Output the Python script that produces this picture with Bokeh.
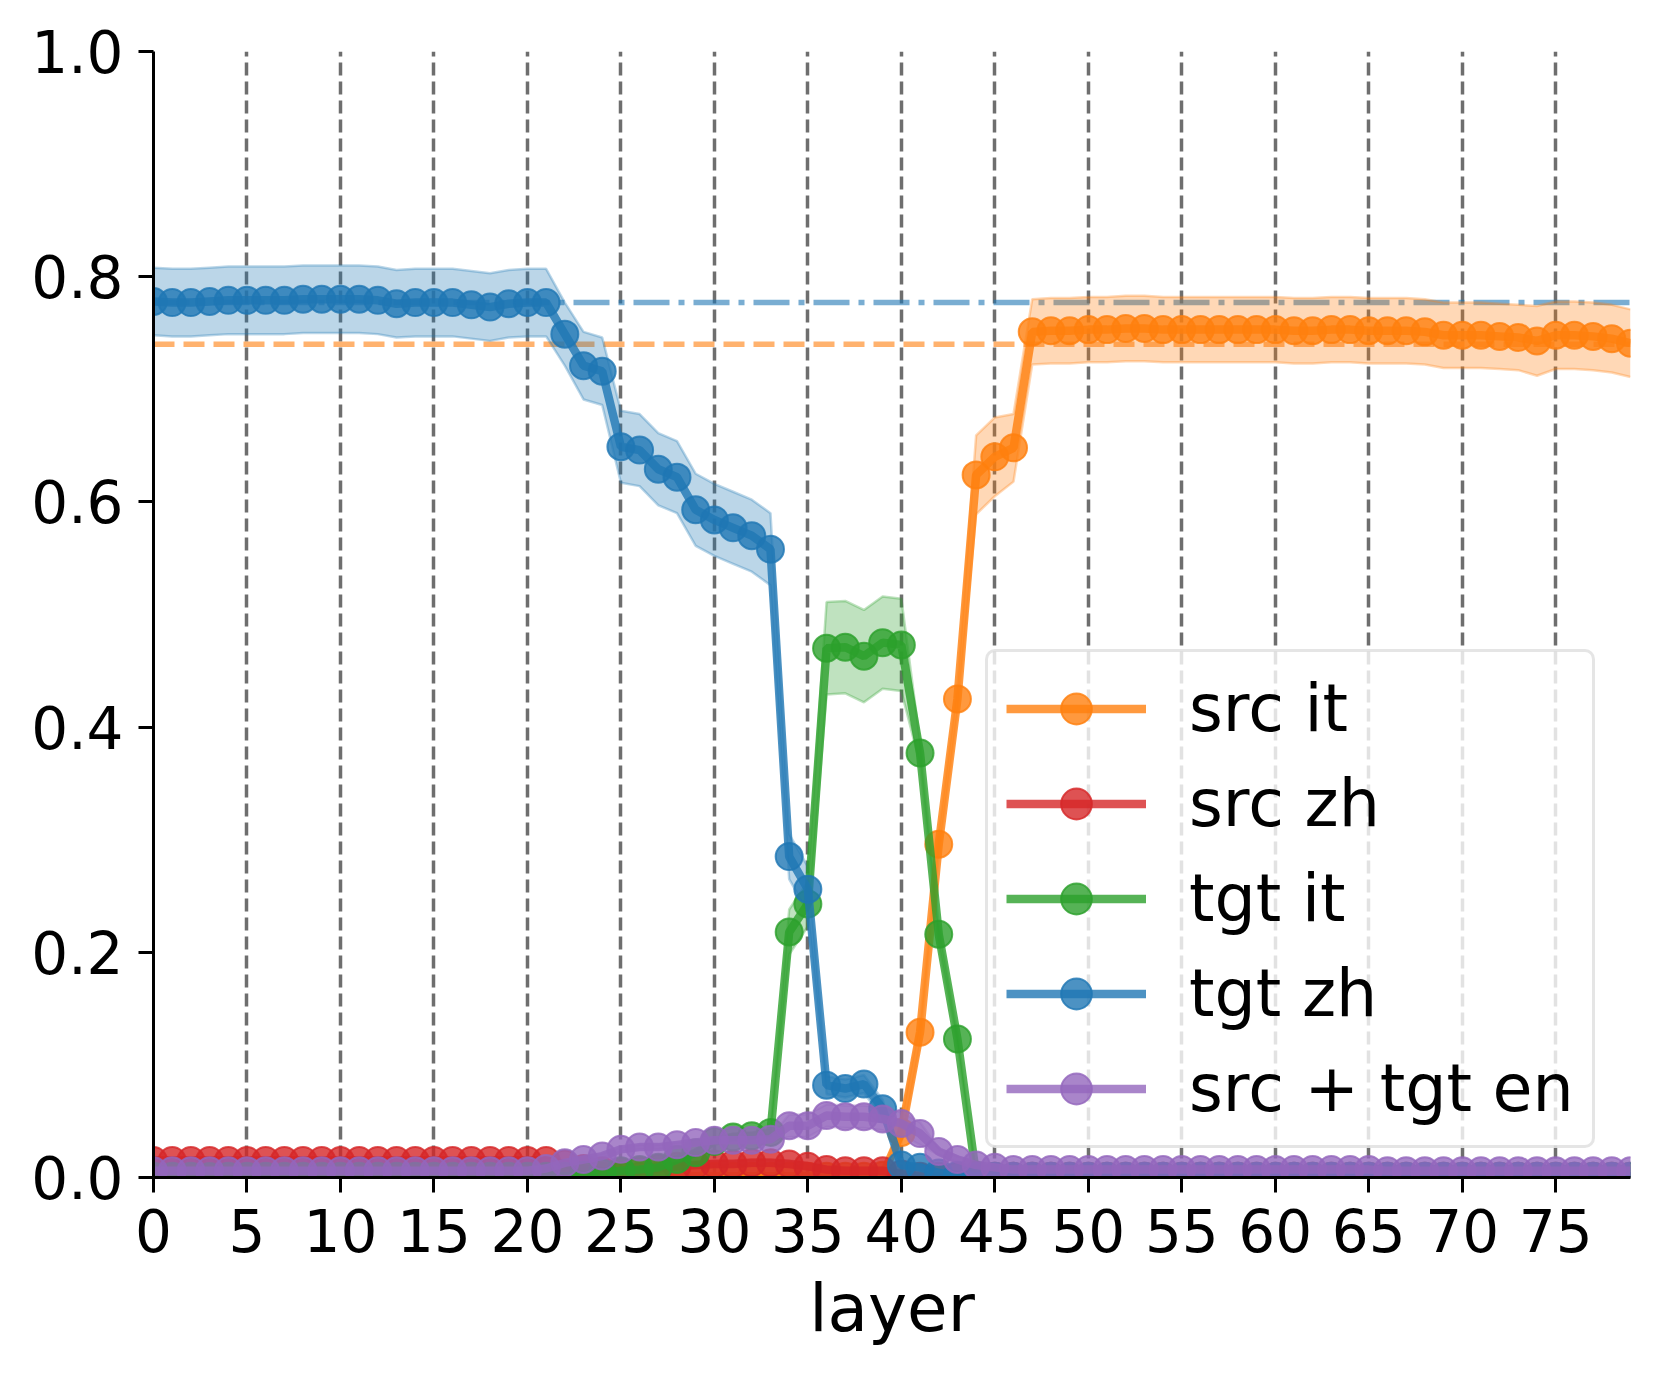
from bokeh.plotting import figure
from bokeh.models import FixedTicker, PrintfTickFormatter, Legend, LegendItem, Span
from bokeh.embed import file_html
from bokeh.resources import INLINE

layers = list(range(80))

# src it (orange)
src_it = [0.001] * 39 + [0.002, 0.040, 0.129, 0.296, 0.425, 0.624, 0.640, 0.648,
          0.751, 0.752, 0.752, 0.753, 0.753, 0.754, 0.754, 0.753, 0.753, 0.753,
          0.753, 0.753, 0.753, 0.753, 0.752, 0.752, 0.753, 0.753, 0.752, 0.752,
          0.752, 0.751, 0.748, 0.748, 0.748, 0.747, 0.746, 0.743, 0.748, 0.748,
          0.747, 0.745, 0.741]
src_it_ci = [0.001] * 40 + [0.010, 0.010, 0.010, 0.012, 0.035, 0.035, 0.030] + [0.029] * 27 + [0.031, 0.030, 0.030, 0.030, 0.030, 0.030]

# src zh (red)
src_zh = [0.015] * 22 + [0.012, 0.008, 0.006, 0.005, 0.006, 0.008, 0.010, 0.011,
          0.012, 0.012, 0.013, 0.013, 0.012, 0.010, 0.007, 0.006, 0.006, 0.006,
          0.003] + [0.001] * 39
src_zh_ci = [0.003] * 41 + [0.001] * 39

# tgt it (green)
tgt_it = [0.001] * 23 + [0.002, 0.004, 0.006, 0.007, 0.009, 0.016, 0.022, 0.032,
          0.036, 0.037, 0.040, 0.218, 0.243, 0.470, 0.471, 0.463, 0.475, 0.473,
          0.377, 0.216, 0.123, 0.002] + [0.001] * 35
tgt_it_ci = [0.001] * 23 + [0.003] * 11 + [0.020, 0.020, 0.041, 0.041, 0.041, 0.041, 0.041,
             0.010, 0.008, 0.005] + [0.001] * 36

# tgt zh (blue)
tgt_zh = [0.778, 0.777, 0.777, 0.778, 0.779, 0.779, 0.779, 0.779, 0.780, 0.780,
          0.780, 0.780, 0.779, 0.776, 0.777, 0.777, 0.777, 0.775, 0.773, 0.776,
          0.777, 0.777, 0.749, 0.721, 0.716, 0.649, 0.646, 0.629, 0.622, 0.593,
          0.584, 0.577, 0.570, 0.558, 0.285, 0.256, 0.082, 0.079, 0.083, 0.061,
          0.011, 0.009, 0.004, 0.002] + [0.001] * 36
tgt_zh_ci = [0.030] * 22 + [0.028, 0.030, 0.030] + [0.032] * 9 + [0.020, 0.020, 0.008, 0.008, 0.008, 0.008] + [0.003] * 40

# src + tgt en (purple)
en = [0.006] * 21 + [0.008, 0.013, 0.016, 0.019, 0.025, 0.027, 0.027, 0.029, 0.031,
      0.033, 0.033, 0.033, 0.034, 0.046, 0.046, 0.055, 0.054, 0.054, 0.052, 0.048,
      0.039, 0.023, 0.016, 0.011, 0.009] + [0.007] * 20 + [0.006] * 14
en_ci = [0.002] * 34 + [0.010] * 8 + [0.003] * 38

ref_src_it = 0.740
ref_tgt_zh = 0.777

x_ticks = list(range(0, 80, 5))
y_ticks = [0.0, 0.2, 0.4, 0.6, 0.8, 1.0]

series = [
    ("src it", src_it, src_it_ci, "#ff7f0e"),
    ("src zh", src_zh, src_zh_ci, "#d62728"),
    ("tgt it", tgt_it, tgt_it_ci, "#2ca02c"),
    ("tgt zh", tgt_zh, tgt_zh_ci, "#1f77b4"),
    ("src + tgt en", en, en_ci, "#9467bd"),
]

FONT = "DejaVu Sans"

p = figure(width=1655, height=1368, x_range=(0, 79), y_range=(0, 1),
           output_backend="svg", toolbar_location=None,
           min_border_left=153, min_border_right=25, min_border_top=51, min_border_bottom=191)
p.outline_line_color = None
p.background_fill_color = "white"

# axes
p.xaxis.ticker = FixedTicker(ticks=x_ticks)
p.yaxis.ticker = FixedTicker(ticks=y_ticks)
p.yaxis.formatter = PrintfTickFormatter(format="%.1f")
for ax in (p.xaxis, p.yaxis):
    ax.axis_line_width = 3
    ax.axis_line_color = "black"
    ax.major_tick_line_width = 3
    ax.major_tick_out = 15
    ax.major_tick_in = 0
    ax.minor_tick_line_color = None
    ax.major_label_text_font = FONT
    ax.major_label_text_font_size = "58px"
    ax.major_label_text_color = "black"
p.yaxis.major_label_standoff = 15
p.xaxis.major_label_standoff = 16
p.xaxis.axis_label = "layer"
p.xaxis.axis_label_text_font = FONT
p.xaxis.axis_label_text_font_size = "66px"
p.xaxis.axis_label_text_font_style = "normal"
p.xaxis.axis_label_text_color = "black"
p.xaxis.axis_label_standoff = 15

# grid
p.ygrid.grid_line_color = None
p.xgrid.grid_line_color = "#6e6e6e"
p.xgrid.grid_line_dash = "13 6"
p.xgrid.grid_line_width = 3.5

# reference lines
s1 = Span(location=ref_src_it, dimension="width", line_color="#ff7f0e", line_alpha=0.6,
          line_width=5.5, line_dash="21 9", level="underlay")
s2 = Span(location=ref_tgt_zh, dimension="width", line_color="#1f77b4", line_alpha=0.6,
          line_width=5.5, line_dash="36 9 6 9", level="underlay")
p.add_layout(s1)
p.add_layout(s2)

items = []
for label, vals, ci, color in series:
    lo = [v - c for v, c in zip(vals, ci)]
    hi = [v + c for v, c in zip(vals, ci)]
    p.varea(x=layers, y1=lo, y2=hi, fill_color=color, fill_alpha=0.3)
    p.line(x=layers, y=lo, line_color=color, line_alpha=0.3, line_width=2.5)
    p.line(x=layers, y=hi, line_color=color, line_alpha=0.3, line_width=2.5)

for label, vals, ci, color in series:
    lr = p.line(x=layers, y=vals, line_color=color, line_alpha=0.8, line_width=8.5)
    sr = p.scatter(x=layers, y=vals, size=27, marker="circle", fill_color=color, fill_alpha=0.8,
                   line_color=color, line_alpha=0.8, line_width=2)
    items.append(LegendItem(label=label, renderers=[lr, sr]))

legend = Legend(items=items, location=(832, 29))
legend.margin = 0
legend.padding = 18
legend.spacing = 18
legend.glyph_width = 140
legend.glyph_height = 77
legend.label_height = 77
legend.label_standoff = 43
legend.label_text_font = FONT
legend.label_text_font_size = "65px"
legend.label_text_color = "black"
legend.border_line_color = "#cccccc"
legend.border_line_width = 3
legend.background_fill_color = "white"
legend.background_fill_alpha = 0.8
if "border_radius" in Legend.properties():
    legend.border_radius = 10
p.add_layout(legend, "center")

open("out.html", "w").write(file_html(p, INLINE))
